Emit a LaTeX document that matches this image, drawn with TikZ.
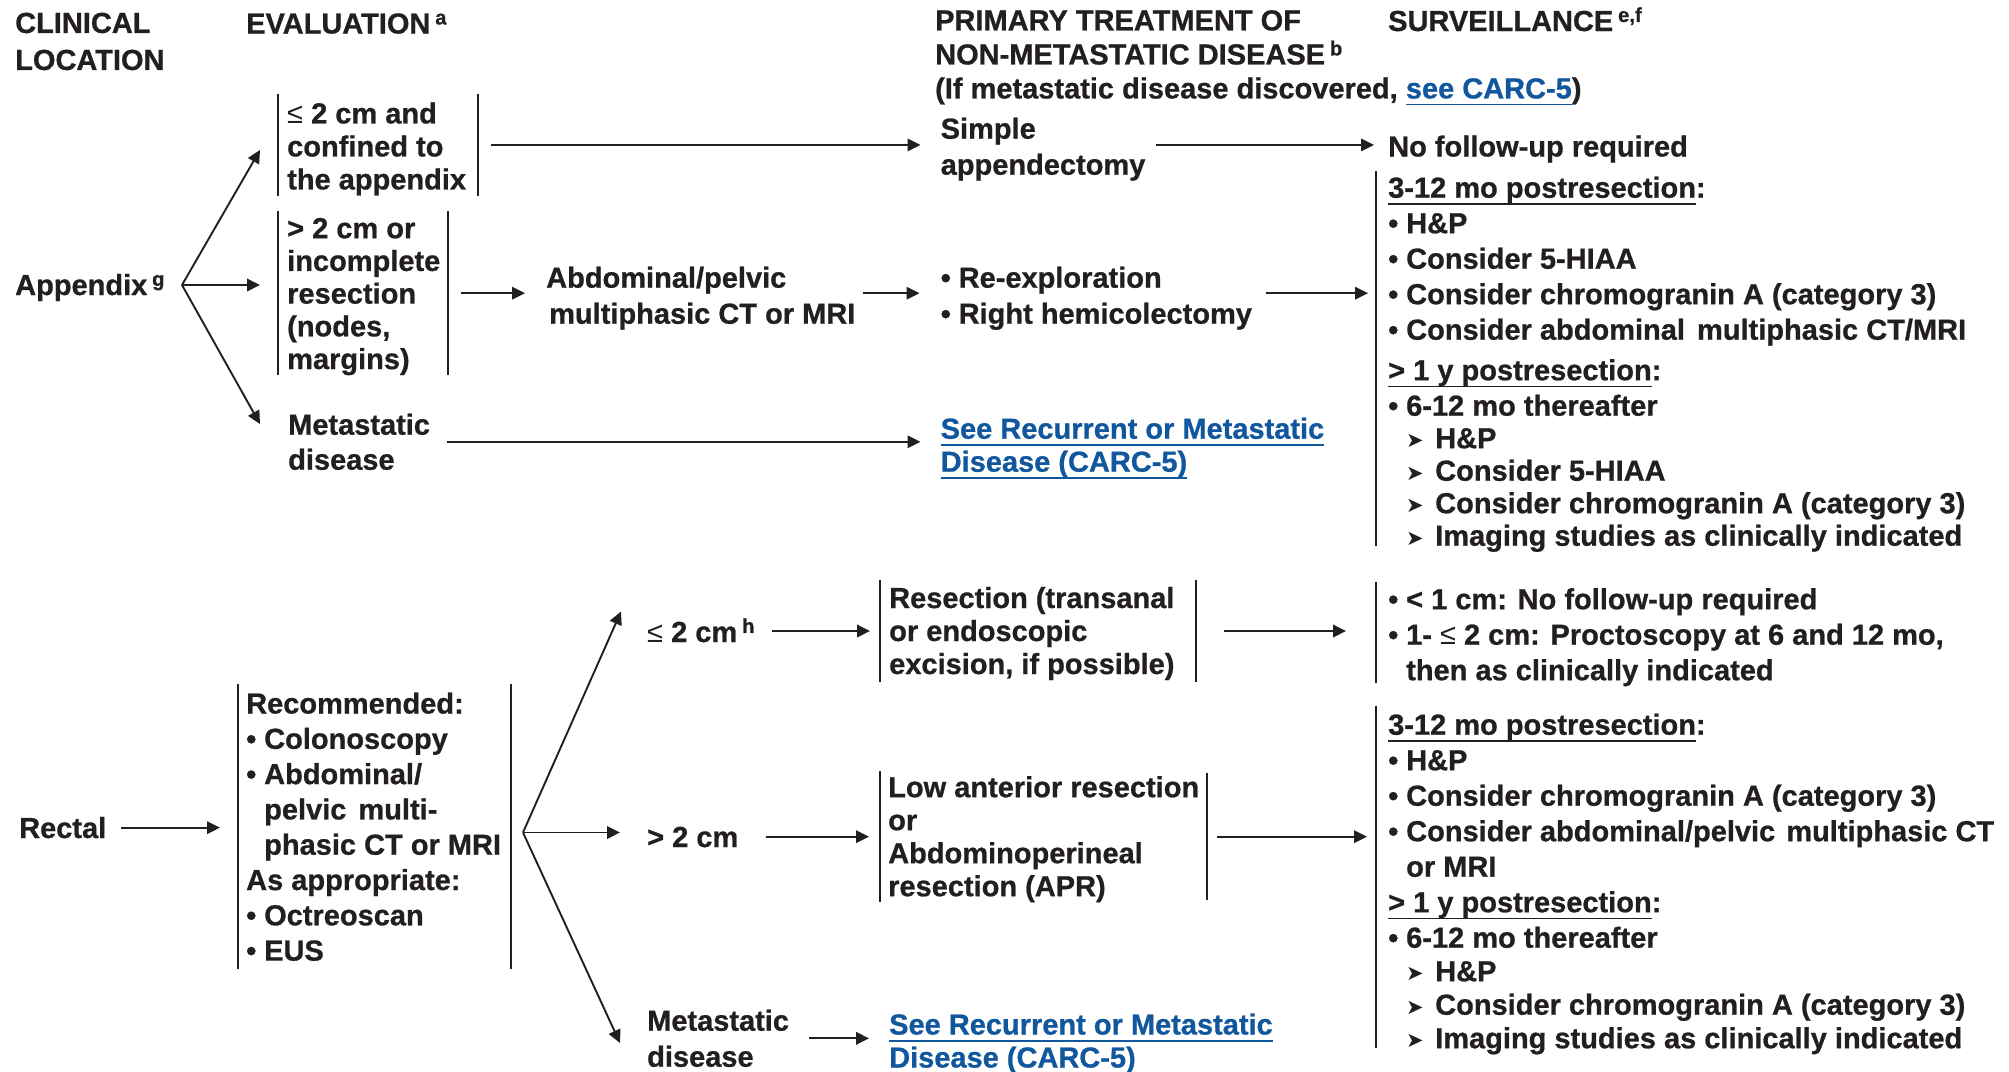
\documentclass[tikz,border=0pt]{standalone}
\usepackage{fontspec}
\setmainfont{Liberation Sans}[BoldFeatures={FakeBold=0.8}]
\newfontfamily\arrowfont{DejaVu Sans}
\usetikzlibrary{arrows.meta}

\definecolor{ink}{RGB}{35,31,32}
\definecolor{linkblue}{RGB}{17,87,158}

% text helpers
\newcommand\ul[1]{\setbox0=\hbox{#1}\rlap{\rule[-7pt]{\wd0}{1.7pt}}\box0}
\newcommand\lnk[1]{{\color{linkblue}\ul{#1}}}
\newcommand\leqs{{\mdseries ≤}}
\newcommand\bul{\makebox[18pt][l]{•}}
\newcommand\ind{\hspace*{18pt}}
\newcommand\sbul{\hspace*{18pt}\makebox[29pt][l]{\raisebox{0.5pt}{\arrowfont\mdseries\fontsize{21}{21}\selectfont ➤}}}
\newcommand\topgap[1]{\rule{0pt}{#1}}

\tikzset{
  lbl/.style={inner sep=0pt, align=left, text=ink,
              font=\bfseries\fontsize{29}{33}\selectfont},
  lst/.style={lbl, font=\bfseries\fontsize{29}{35.5}\selectfont},
  bx/.style={lbl, anchor=north west, inner xsep=9pt, inner ysep=0pt},
  bar/.style={draw=ink, line width=2pt},
  arr/.style={draw=ink, line width=1.9pt, -{Triangle[length=13pt,width=12.5pt]}},
}

\begin{document}
\begin{tikzpicture}[x=1pt,y=-1pt]
\useasboundingbox (0,0) rectangle (2009,1071);

% ---------- column headings ----------
\node[lbl, anchor=north west, font=\bfseries\fontsize{29}{37}\selectfont] (hloc) at (15,12.5) {CLINICAL\\LOCATION};
\node[lbl, anchor=base west] (heval) at (246,33.5) {EVALUATION\,\textsuperscript{a}};
\node[lbl, anchor=north west, font=\bfseries\fontsize{29}{34}\selectfont] (htreat) at (935,10)
  {PRIMARY TREATMENT OF\\NON-METASTATIC DISEASE\,\textsuperscript{b}\\(If metastatic disease discovered, \lnk{see CARC-5})};
\node[lbl, anchor=base west] (hsurv) at (1388,31) {SURVEILLANCE\,\textsuperscript{e,f}};

% ---------- appendix ----------
\node[lbl, anchor=base west] (app) at (15,295) {Appendix\,\textsuperscript{g}};
\coordinate (fa) at (182,285);

\node[bx, minimum height=102.5pt] (b1) at (278,93.5) {\topgap{29pt}\leqs\ 2 cm and\\confined to\\the appendix};
\coordinate (b1r) at ([xshift=200pt]b1.west);
\draw[bar] (b1.north west) -- (b1.south west) (b1r |- b1.north) -- (b1r |- b1.south);

\node[bx, minimum height=164pt, font=\bfseries\fontsize{29}{32.7}\selectfont] (b2) at (278,211) {\topgap{27pt}> 2 cm or\\incomplete\\resection\\(nodes,\\margins)};
\coordinate (b2r) at ([xshift=170pt]b2.west);
\draw[bar] (b2.north west) -- (b2.south west) (b2r |- b2.north) -- (b2r |- b2.south);

\node[lbl, anchor=north west, font=\bfseries\fontsize{29}{35}\selectfont] (met) at (288,413.5) {Metastatic\\disease};

\coordinate (t1) at (260,150);
\coordinate (t2) at (260,285);
\coordinate (t3) at (260,424);
\draw[arr] (fa) -- (t1);
\draw[arr] (fa) -- (t2);
\draw[arr] (fa) -- (t3);

\node[lbl, anchor=north west, font=\bfseries\fontsize{29}{36}\selectfont] (simple) at (940.5,117.5) {Simple\\appendectomy};
\node[lbl, anchor=base west] (nofu) at (1388,156.5) {No follow-up required};
\node[lbl, anchor=north west, font=\bfseries\fontsize{29}{36}\selectfont] (abd) at (546,266.5) {Abdominal/pelvic\\\hspace*{3pt}multiphasic CT or MRI};
\node[lbl, anchor=north west, font=\bfseries\fontsize{29}{36}\selectfont] (reex) at (940.5,266.5) {\bul Re-exploration\\\bul Right hemicolectomy};
\node[lbl, anchor=north west, text=linkblue] (seeA) at (940.5,417.5) {\lnk{See Recurrent or Metastatic}\\\lnk{Disease (CARC-5)}};

\node[lst, anchor=north west, inner xsep=12pt] (s1) at (1376,176.5) {%
  \ul{3-12 mo postresection}:\\
  \bul H\&P\\
  \bul Consider 5-HIAA\\
  \bul Consider chromogranin A (category 3)\\
  \bul Consider abdominal\hspace{4pt} multiphasic CT/MRI\\[5pt]
  \ul{> 1 y postresection}:\\
  \bul 6-12 mo thereafter\\[-3pt]
  \sbul H\&P\\[-3pt]
  \sbul Consider 5-HIAA\\[-3pt]
  \sbul Consider chromogranin A (category 3)\\[-3pt]
  \sbul Imaging studies as clinically indicated};
\draw[bar] ([yshift=6pt]s1.north west) -- ([yshift=6pt]s1.south west);

\draw[arr] ([xshift=13pt]b1r) -- ([xshift=-20pt]simple.west |- b1r);
\draw[arr] ([xshift=10pt]simple.east |- b1r) -- ([xshift=-14pt]nofu.west |- b1r);
\draw[arr] ([xshift=13pt]b2r) -- ([xshift=-21pt]abd.west |- b2r);
\draw[arr] ([xshift=7pt]abd.east |- b2r) -- ([xshift=-21pt]reex.west |- b2r);
\draw[arr] ([xshift=14pt]reex.east |- b2r) -- ([xshift=-8pt]s1.west |- b2r);
\draw[arr] ([xshift=17pt]met.east) -- ([xshift=-20pt]seeA.west |- met.east);

% ---------- rectal ----------
\node[lbl, anchor=base west] (rect) at (19,838) {Rectal};

\node[bx, minimum height=285pt, inner xsep=8pt, font=\bfseries\fontsize{29}{35.3}\selectfont] (ev) at (238,684)
  {Recommended:\\\bul Colonoscopy\\\bul Abdominal/\\\ind pelvic\hspace{4pt} multi-\\\ind phasic CT or MRI\\As appropriate:\\\bul Octreoscan\\\bul EUS};
\coordinate (evr) at ([xshift=273pt]ev.west);
\draw[bar] (ev.north west) -- (ev.south west) (evr |- ev.north) -- (evr |- ev.south);

\draw[arr] ([xshift=15pt]rect.east) -- ([xshift=-18pt]ev.west |- rect.east);

\coordinate (fr) at (523,832.5);
\coordinate (u1) at (621,611.5);
\coordinate (u2) at (620,832.5);
\coordinate (u3) at (620,1043);
\draw[arr] (fr) -- (u1);
\draw[arr] (fr) -- (u2);
\draw[arr] (fr) -- (u3);

\node[lbl, anchor=base west] (le2) at (647,642) {\leqs\ 2 cm\,\textsuperscript{h}};
\node[bx, minimum height=101.6pt] (res) at (880,580) {\topgap{26pt}Resection (transanal\\or endoscopic\\excision, if possible)};
\coordinate (resr) at ([xshift=315.5pt]res.west);
\draw[bar] (res.north west) -- (res.south west) (resr |- res.north) -- (resr |- res.south);

\node[lst, anchor=north west, inner xsep=12pt] (s2) at (1376,588) {%
  \bul < 1 cm: No follow-up required\\
  \bul 1- \leqs\ 2 cm: Proctoscopy at 6 and 12 mo,\\
  \ind then as clinically indicated};
\draw[bar] ([yshift=6pt]s2.north west) -- ([yshift=3pt]s2.south west);

\node[lbl, anchor=base west] (gt2) at (647,847) {> 2 cm};
\node[bx, minimum height=128.5pt, inner xsep=8pt] (low) at (880,771) {\topgap{26pt}Low anterior resection\\or\\Abdominoperineal\\resection (APR)};
\coordinate (lowr) at ([xshift=327pt]low.west);
\draw[bar] (low.north west) -- (low.south west) ([yshift=-2pt]lowr |- low.north) -- ([yshift=2pt]lowr |- low.south);

\node[lst, anchor=north west, inner xsep=12pt] (s3) at (1376,713.5) {%
  \ul{3-12 mo postresection}:\\
  \bul H\&P\\
  \bul Consider chromogranin A (category 3)\\
  \bul Consider abdominal/pelvic\hspace{3pt} multiphasic CT\\
  \ind or MRI\\
  \ul{> 1 y postresection}:\\
  \bul 6-12 mo thereafter\\[-2pt]
  \sbul H\&P\\[-2pt]
  \sbul Consider chromogranin A (category 3)\\[-2pt]
  \sbul Imaging studies as clinically indicated};
\draw[bar] ([yshift=8pt]s3.north west) -- ([yshift=7pt]s3.south west);

\node[lbl, anchor=north west, font=\bfseries\fontsize{29}{36}\selectfont] (met2) at (647,1009.5) {Metastatic\\disease};
\node[lbl, anchor=north west, text=linkblue] (seeB) at (889,1013.3) {\lnk{See Recurrent or Metastatic}\\\lnk{Disease (CARC-5)}};

\draw[arr] ([xshift=17pt]le2.east |- resr) -- ([xshift=-10pt]res.west);
\draw[arr] ([xshift=28pt]resr) -- ([xshift=-30pt]s2.west |- resr);
\draw[arr] ([xshift=27pt]gt2.east |- low.west) -- ([xshift=-11pt]low.west);
\draw[arr] ([xshift=10pt]lowr) -- ([xshift=-9pt]s3.west |- lowr);
\draw[arr] ([xshift=20pt]met2.east) -- ([xshift=-20pt]seeB.west |- met2.east);
\end{tikzpicture}
\end{document}
